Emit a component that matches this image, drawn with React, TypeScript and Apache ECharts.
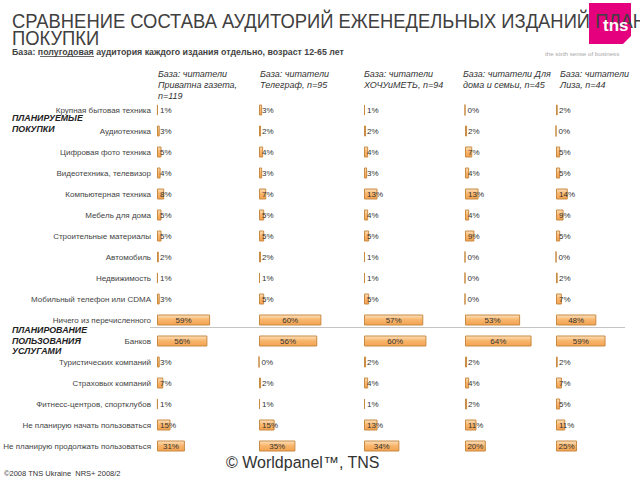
import React, { useEffect, useRef } from "react";
import * as echarts from "echarts";

const categories = [
  "Крупная бытовая техника",
  "Аудиотехника",
  "Цифровая фото техника",
  "Видеотехника, телевизор",
  "Компьютерная техника",
  "Мебель для дома",
  "Строительные материалы",
  "Автомобиль",
  "Недвижимость",
  "Мобильный телефон или CDMA",
  "Ничего из перечисленного",
  "Банков",
  "Туристических компаний",
  "Страховых компаний",
  "Фитнесс-центров, спортклубов",
  "Не планирую начать пользоваться",
  "Не планирую продолжать пользоваться",
];

const headers = [
  "База: читатели\nПриватна газета,\nn=119",
  "База: читатели\nТелеграф, n=95",
  "База: читатели\nХОЧУиМЕТЬ, n=94",
  "База: читатели Для\nдома и семьи, n=45",
  "База: читатели\nЛиза, n=44",
];

const privatnaGazeta = [1, 3, 5, 4, 8, 5, 5, 2, 1, 3, 59, 56, 3, 7, 1, 15, 31];
const telegraf = [3, 2, 4, 3, 7, 5, 5, 2, 1, 5, 60, 56, 0, 2, 1, 15, 35];
const hochuImet = [1, 2, 4, 3, 13, 4, 5, 1, 1, 5, 57, 60, 2, 4, 1, 13, 34];
const dlyaDoma = [0, 2, 7, 4, 13, 4, 9, 0, 0, 0, 53, 64, 2, 4, 2, 11, 20];
const liza = [2, 0, 5, 5, 14, 9, 5, 0, 2, 7, 48, 59, 2, 7, 5, 11, 25];

const columns = [privatnaGazeta, telegraf, hochuImet, dlyaDoma, liza];

const FONT = "Liberation Sans, Arial, sans-serif";

export default function App() {
  const ref = useRef<HTMLDivElement>(null);
  useEffect(() => {
    if (!ref.current) return;
    const chart = echarts.init(ref.current, null, { renderer: "svg" });
    const lefts = [157, 259, 364, 465, 556];
    const widths = [90, 104, 104, 104, 104];
    const top = 99.5;
    const height = 357;
    const barColor = new echarts.graphic.LinearGradient(0, 0, 0, 1, [
      { offset: 0, color: "#fde2c0" },
      { offset: 0.45, color: "#f8b76e" },
      { offset: 1, color: "#f2a24f" },
    ]);
    const grids = lefts.map((l, i) => ({ left: l, top, width: widths[i], height }));
    const xAxes = lefts.map((_, i) => ({
      type: "value",
      gridIndex: i,
      min: 0,
      max: 100,
      show: false,
    }));
    const yAxes = lefts.map((_, i) => ({
      type: "category",
      gridIndex: i,
      data: categories,
      inverse: true,
      axisLine: { show: false },
      axisTick: { show: false },
      splitLine: { show: false },
      axisLabel: {
        show: i === 0,
        fontFamily: FONT,
        fontSize: 8,
        color: "#444",
        margin: 6,
      },
    }));
    const series = columns.map((vals, i) => ({
      type: "bar",
      xAxisIndex: i,
      yAxisIndex: i,
      barWidth: 11,
      itemStyle: { color: barColor, borderColor: "#c98a42", borderWidth: 1 },
      data: vals.map((v) => ({
        value: v,
        label: {
          show: true,
          position: v >= 20 ? "inside" : "insideLeft",
          distance: 3,
          formatter: "{c}%",
          fontFamily: FONT,
          fontSize: 8,
          color: "#333",
        },
      })),
    }));

    const graphic: any[] = [
      {
        type: "polygon",
        shape: {
          points: [
            [589, 3],
            [631, 3],
            [631, 36],
            [623, 44],
            [589, 44],
          ],
        },
        style: { fill: "#e5007d" },
      },
      {
        type: "text",
        x: 12,
        y: 11,
        scaleX: 0.92,
        style: {
          text: "СРАВНЕНИЕ СОСТАВА АУДИТОРИЙ ЕЖЕНЕДЕЛЬНЫХ ИЗДАНИЙ ПЛАНИРУЕМЫЕ",
          fontFamily: FONT,
          fontSize: 20,
          lineHeight: 20,
          verticalAlign: "top",
          fill: "#404040",
        },
      },
      {
        type: "text",
        x: 12,
        y: 29,
        scaleX: 0.92,
        style: {
          text: "ПОКУПКИ",
          fontFamily: FONT,
          fontSize: 20,
          lineHeight: 18,
          verticalAlign: "top",
          fill: "#404040",
        },
      },
      {
        type: "text",
        left: 603,
        top: 17,
        style: { text: "tns", fontFamily: FONT, fontSize: 17, fontWeight: "bold", fill: "#ffffff" },
      },
      {
        type: "text",
        left: 12,
        top: 47,
        style: {
          text: "База: полугодовая аудитория каждого издания отдельно, возраст 12-65 лет",
          fontFamily: FONT,
          fontSize: 8.8,
          lineHeight: 9,
          fontWeight: "bold",
          fill: "#444",
        },
      },
      {
        type: "line",
        shape: { x1: 40, y1: 56.5, x2: 94, y2: 56.5 },
        style: { stroke: "#444", lineWidth: 0.8 },
      },
      {
        type: "text",
        left: 545,
        top: 50,
        style: { text: "the sixth sense of business", fontFamily: FONT, fontSize: 6.2, fill: "#a8a8a8" },
      },
      {
        type: "text",
        left: 12,
        top: 113,
        style: {
          text: "ПЛАНИРУЕМЫЕ\nПОКУПКИ",
          fontFamily: FONT,
          fontSize: 8.8,
          fontWeight: "bold",
          fontStyle: "italic",
          fill: "#222",
          lineHeight: 10.5,
        },
      },
      {
        type: "text",
        left: 12,
        top: 325,
        style: {
          text: "ПЛАНИРОВАНИЕ\nПОЛЬЗОВАНИЯ\nУСЛУГАМИ",
          fontFamily: FONT,
          fontSize: 8.8,
          fontWeight: "bold",
          fontStyle: "italic",
          fill: "#222",
          lineHeight: 10.5,
        },
      },
      {
        type: "line",
        shape: { x1: 150, y1: 327.5, x2: 625, y2: 327.5 },
        style: { stroke: "#c4c4c4", lineWidth: 1 },
      },
      {
        type: "text",
        left: 4,
        top: 469,
        style: { text: "©2008 TNS Ukraine  NRS+ 2008/2", fontFamily: FONT, fontSize: 7.5, fill: "#333" },
      },
      {
        type: "text",
        left: 226,
        top: 454,
        style: { text: "© Worldpanel™, TNS", fontFamily: FONT, fontSize: 16, fill: "#333" },
      },
    ];
    const headerX = [158, 260, 364, 463, 560];
    headers.forEach((h, i) => {
      graphic.push({
        type: "text",
        left: headerX[i],
        top: 68,
        style: {
          text: h,
          fontFamily: FONT,
          fontSize: 9,
          fontStyle: "italic",
          fill: "#333",
          lineHeight: 11,
        },
      });
    });

    chart.setOption({
      animation: false,
      backgroundColor: "#ffffff",
      grid: grids,
      xAxis: xAxes,
      yAxis: yAxes,
      series,
      graphic,
    } as any);
    return () => chart.dispose();
  }, []);
  return (
    <div
      ref={ref}
      style={{ position: "fixed", left: 0, top: 0, width: 640, height: 480 }}
    />
  );
}
